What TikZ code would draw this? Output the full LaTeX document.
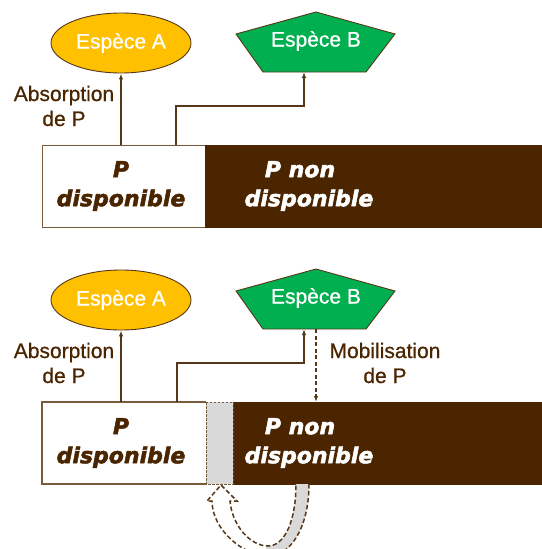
\documentclass[tikz,border=0pt]{standalone}
\usepackage{fontspec}
\setmainfont{Liberation Sans}[FakeBold=0.7]
\newfontfamily\boxfont{DejaVu Sans}[FakeBold=2.2]
\usetikzlibrary{arrows.meta,shapes.geometric}
\definecolor{soil}{RGB}{74,37,0}
\definecolor{linkbrown}{RGB}{87,55,25}
\definecolor{edgebrown}{RGB}{120,90,60}
\definecolor{espAyellow}{RGB}{255,192,0}
\definecolor{espBgreen}{RGB}{0,176,80}
\definecolor{stripgrey}{RGB}{217,217,217}
\tikzset{
    espece-a/.style = {ellipse, draw=linkbrown, fill=espAyellow, line width=0.9pt, text=white, font=\fontsize{21}{25}\selectfont, minimum width=140pt, minimum height=60pt, inner sep=0pt},
    espece-b/.style = {draw=linkbrown, fill=espBgreen, line width=0.9pt},
    espece-text/.style = {text=white, font=\fontsize{21}{25}\selectfont, inner sep=0pt},
    label-text/.style = {text=soil, font=\fontsize{21}{25}\selectfont, align=center, inner sep=0pt},
    dispo-text/.style = {text=soil, font=\boxfont\bfseries\itshape\fontsize{22}{29}\selectfont, align=center, inner sep=0pt},
    non-text/.style = {text=white, font=\boxfont\bfseries\itshape\fontsize{22}{29}\selectfont, align=center, inner sep=0pt},
    box-line/.style = {draw=edgebrown, line width=1.2pt},
    link/.style = {draw=linkbrown, line width=1.3pt, -{Latex[length=6pt,width=4.5pt]}},
    mob-link/.style = {link, dash pattern=on 4pt off 2.5pt},
    strip/.style = {draw=edgebrown, fill=stripgrey, line width=1pt, dash pattern=on 2.5pt off 1.5pt},
    recycle/.style = {draw=linkbrown, line width=1.5pt, dash pattern=on 4.5pt off 2.5pt},
}
\begin{document}
\begin{tikzpicture}[x=1pt, y=-1pt]
\useasboundingbox (0,0) rectangle (541,549);

% top panel: species A and B take up available P
\node[espece-a] (espAtop) at (121,43) {Espèce A};
\filldraw[espece-b] (316,12) -- (395,34) -- (366,72) -- (263,72) -- (236,34) -- cycle;
\node[espece-text] (espBtop) at (316,41) {Espèce B};
\coordinate (espBtop-foot) at (304,72);

\node[box-line, fill=white, minimum width=163pt, minimum height=82pt, anchor=north west] (dispotop) at (42,145) {};
\node[dispo-text] (dispotxttop) at (121,186) {P\\disponible};
\node[draw=soil, fill=soil, minimum width=336pt, minimum height=82pt, anchor=north west] (nontop) at (205,145) {};
\node[non-text] (nontxttop) at (309,186) {P non\kern18pt\\disponible};

\draw[link] (espAtop.south |- dispotop.north) -- (espAtop.south);
\coordinate (forktop) at (176,145);
\coordinate (kneetop) at (304,106);
\draw[link] (forktop) |- (kneetop) -- (espBtop-foot);
\node[label-text] (absorbtop) at (64,106) {Absorption\\de P};

% bottom panel: species B mobilises P non disponible
\node[espece-a] (espAbot) at (121,300) {Espèce A};
\filldraw[espece-b] (316,269) -- (395,291) -- (366,329) -- (263,329) -- (236,291) -- cycle;
\node[espece-text] (espBbot) at (316,298) {Espèce B};
\coordinate (espBbot-foot) at (304,329);
\coordinate (espBbot-tip) at (316,329);

\draw[box-line, fill=white] (206,402) -- (42,402) -- (42,484) -- (206,484);
\node[dispo-text] (dispotxtbot) at (121,443) {P\\disponible};
\node[draw=soil, fill=soil, minimum width=308pt, minimum height=82pt, anchor=north west] (nonbot) at (233,402) {};
\node[non-text] (nontxtbot) at (309,443) {P non\kern18pt\\disponible};
\filldraw[strip] (206,402) rectangle (233,484);

\draw[link] (espAbot.south |- nonbot.north) -- (espAbot.south);
\coordinate (forkbot) at (177,402);
\coordinate (kneebot) at (304,363);
\draw[link] (forkbot) |- (kneebot) -- (espBbot-foot);
\draw[mob-link] (espBbot-tip) -- (espBbot-tip |- nonbot.north);
\node[label-text] (absorbbot) at (64,363) {Absorption\\de P};
\node[label-text] (mobbot) at (385,363) {Mobilisation\\de P};

% recycling arrow under the soil
\begin{scope}
\clip (266,484) rectangle (320,549);
\fill[stripgrey] (309,484) .. controls (309,525) and (292,556) .. (268,556)
    .. controls (244,556) and (212,530) .. (212,501)
    -- (230,501) .. controls (232,525) and (250,546) .. (268,546)
    .. controls (285,546) and (296,520) .. (296,484) -- cycle;
\end{scope}
\draw[recycle] (309,484) .. controls (309,525) and (292,556) .. (268,556)
    .. controls (244,556) and (212,530) .. (212,501)
    -- (207,501) -- (221,485) -- (237,501) -- (230,501)
    .. controls (232,525) and (250,546) .. (268,546)
    .. controls (285,546) and (296,520) .. (296,484);
\end{tikzpicture}
\end{document}
